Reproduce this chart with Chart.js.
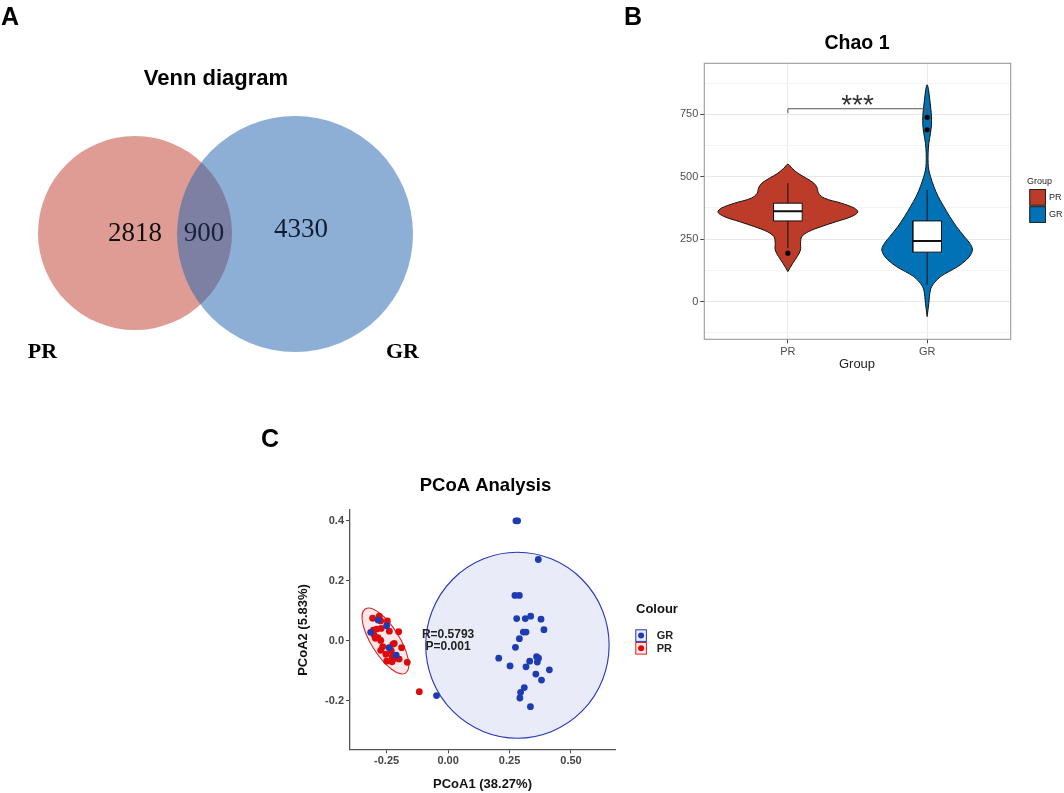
<!DOCTYPE html>
<html>
<head>
<meta charset="utf-8">
<script src="https://cdn.jsdelivr.net/npm/chart.js@4.4.0/dist/chart.umd.min.js"></script>
<style>
  body { margin: 0; background: #fff; }
  #page { position: relative; width: 1064px; height: 793px; overflow: hidden; background: #fff; }
  canvas { position: absolute; }
  .tag { position: absolute; font: bold 25px "Liberation Sans", Arial, sans-serif; line-height: 25px; color: #000; }
</style>
</head>
<body>
<div id="page">
  <canvas id="venn" width="470" height="380" style="left:0;top:0;width:470px;height:380px"></canvas>
  <canvas id="chao" width="474" height="390" style="left:590px;top:0;width:474px;height:390px"></canvas>
  <canvas id="pcoa" width="480" height="353" style="left:260px;top:440px;width:480px;height:353px"></canvas>
  <div class="tag" style="left:1px;top:4px">A</div>
  <div class="tag" style="left:624px;top:4px">B</div>
  <div class="tag" style="left:261px;top:426px">C</div>
</div>
<script>
// ---------- A: Venn ----------
var vennSets = ['PR', 'GR'];
var vennOnly = [2818, 4330];
var vennShared = 900;

// ---------- B: Chao 1 ----------
var groups = ['PR', 'GR'];
var chaoTicks = [0, 250, 500, 750];
// violin outline: value, half width (x units)
var prViolinY = [120, 154, 180, 207, 234, 260, 280, 300, 320, 340, 358, 374, 394, 414, 434, 454, 474, 494, 514, 534, 550];
var prViolinW = [0, 0.036, 0.067, 0.091, 0.091, 0.100, 0.148, 0.239, 0.347, 0.455, 0.502, 0.478, 0.383, 0.263, 0.220, 0.211, 0.187, 0.132, 0.072, 0.029, 0];
var grViolinY = [-60, -7, 47, 73, 100, 120, 140, 167, 191, 211, 234, 260, 300, 340, 380, 421, 461, 501, 527, 554, 594, 634, 674, 708, 741, 774, 808, 848, 868];
var grViolinW = [0, 0.012, 0.024, 0.048, 0.096, 0.156, 0.220, 0.282, 0.316, 0.325, 0.306, 0.268, 0.211, 0.163, 0.120, 0.079, 0.048, 0.024, 0.012, 0.007, 0.007, 0.012, 0.024, 0.031, 0.031, 0.026, 0.019, 0.010, 0];
var boxQ1 = [323, 198];
var boxMedian = [362, 243];
var boxQ3 = [394, 323];
var whiskerLow = [214, 67];
var whiskerHigh = [474, 447];
var outliers = [[194], [688, 738]];
var signifY = [750, 772];
var signifText = '***';

// ---------- C: PCoA ----------
var grPC1 = [0.276, 0.283, 0.367, 0.272, 0.290, 0.279, 0.314, 0.336, 0.378, 0.390, 0.306, 0.317, 0.290, 0.274,
             0.206, 0.252, 0.332, 0.360, 0.368, 0.363, 0.317, 0.412, 0.357, 0.380, 0.310, 0.295, 0.292, 0.335,
             -0.047, -0.285, -0.250, -0.240, -0.211, -0.315];
var grPC2 = [0.400, 0.400, 0.271, 0.151, 0.151, 0.074, 0.074, 0.082, 0.072, 0.037, 0.029, 0.029, 0.007, -0.022,
             -0.058, -0.084, -0.068, -0.053, -0.058, -0.071, -0.087, -0.097, -0.111, -0.131, -0.156, -0.172, -0.191, -0.220,
             -0.183, 0.069, 0.050, -0.023, -0.048, 0.028];
var prPC1 = [-0.307, -0.280, -0.274, -0.247, -0.304, -0.290, -0.272, -0.239, -0.201, -0.301, -0.285, -0.296, -0.274, -0.266,
             -0.225, -0.219, -0.189, -0.274, -0.231, -0.253, -0.228, -0.217, -0.250, -0.228, -0.199, -0.166, -0.117];
var prPC2 = [0.075, 0.082, 0.066, 0.066, 0.035, 0.039, 0.041, 0.032, 0.030, 0.019, 0.010, 0.008, 0.001, -0.020,
             -0.012, -0.009, -0.023, -0.032, -0.034, -0.045, -0.054, -0.059, -0.068, -0.070, -0.061, -0.072, -0.170];
// confidence ellipses: centre and two conjugate semi-axes, in data units
var grEllipseCentre = [0.282, -0.015];
var grEllipseAxes = [[0.373, 0], [0, 0.31]];
var prEllipseCentre = [-0.255, -0.001];
var prEllipseAxes = [[0.082, -0.107], [-0.048, -0.025]];
var anosimText = ['R=0.5793', 'P=0.001'];

var SANS = '"Liberation Sans", Arial, sans-serif';
var SERIF = '"Liberation Serif", "Times New Roman", serif';
Chart.defaults.font.family = SANS;
Chart.defaults.animation = false;
Chart.defaults.events = [];
Chart.defaults.plugins.legend.display = false;
Chart.defaults.plugins.tooltip.enabled = false;

var PR_COL = '#BC3C29', GR_COL = '#0072B5';

// text items, in canvas px (x,y) or data units (dx,dy)
var textPlugin = {
    id: 'texts',
    afterDraw: function (chart, args, opts) {
        var ctx = chart.ctx;
        (opts.items || []).forEach(function (t) {
            var x = t.dx !== undefined ? chart.scales.x.getPixelForValue(t.dx) : t.x;
            var y = t.dy !== undefined ? chart.scales.y.getPixelForValue(t.dy) : t.y;
            ctx.save();
            ctx.font = t.font;
            ctx.fillStyle = t.color || '#000';
            ctx.textAlign = t.align || 'center';
            ctx.textBaseline = t.baseline || 'alphabetic';
            ctx.translate(x, y);
            if (t.rotate) ctx.rotate(t.rotate);
            ctx.fillText(t.text, 0, 0);
            ctx.restore();
        });
    }
};

// legend boxes drawn in canvas px
var keyPlugin = {
    id: 'keys',
    afterDraw: function (chart, args, opts) {
        var ctx = chart.ctx;
        (opts.items || []).forEach(function (k) {
            ctx.save();
            ctx.fillStyle = k.fill;
            ctx.fillRect(k.x, k.y, k.w, k.h);
            ctx.lineWidth = 1;
            ctx.strokeStyle = k.stroke;
            ctx.strokeRect(k.x + 0.5, k.y + 0.5, k.w - 1, k.h - 1);
            if (k.dot) {
                ctx.beginPath();
                ctx.fillStyle = k.dot;
                ctx.arc(k.x + k.w / 2, k.y + k.h / 2, 3, 0, Math.PI * 2);
                ctx.fill();
            }
            ctx.restore();
        });
    }
};

// ===== A =====
var vennLayout = { centres: [[135, 233], [295, 234]], radii: [97, 118], labelAt: [[135, 241], [204, 241], [301, 237]] };

new Chart(document.getElementById('venn'), {
    type: 'bubble',
    data: {
        datasets: [
            { label: vennSets[1], data: [{ x: vennLayout.centres[1][0], y: vennLayout.centres[1][1], r: vennLayout.radii[1] }],
              backgroundColor: 'rgba(40,104,176,0.53)', borderWidth: 0, clip: false },
            { label: vennSets[0], data: [{ x: vennLayout.centres[0][0], y: vennLayout.centres[0][1], r: vennLayout.radii[0] }],
              backgroundColor: 'rgba(192,57,43,0.5)', borderWidth: 0, clip: false }
        ]
    },
    options: {
        responsive: false,
        layout: { padding: 0, autoPadding: false },
        scales: {
            x: { type: 'linear', min: 0, max: 470, display: false },
            y: { type: 'linear', min: 0, max: 380, reverse: true, display: false }
        },
        plugins: {
            texts: { items: [
                { text: 'Venn diagram', x: 216, y: 85, font: 'bold 22px ' + SANS },
                { text: String(vennOnly[0]), dx: vennLayout.labelAt[0][0], dy: vennLayout.labelAt[0][1], font: '27px ' + SERIF, color: '#111' },
                { text: String(vennShared), dx: vennLayout.labelAt[1][0], dy: vennLayout.labelAt[1][1], font: '27px ' + SERIF, color: '#18223c' },
                { text: String(vennOnly[1]), dx: vennLayout.labelAt[2][0], dy: vennLayout.labelAt[2][1], font: '27px ' + SERIF, color: '#101c36' },
                { text: vennSets[0], x: 42.5, y: 358, font: 'bold 22px ' + SERIF },
                { text: vennSets[1], x: 402.5, y: 358, font: 'bold 22px ' + SERIF }
            ] }
        }
    },
    plugins: [textPlugin]
});

// ===== B =====
function violin(pos, ys, ws) {
    var pts = [];
    for (var i = 0; i < ys.length; i++) pts.push({ x: pos + ws[i], y: ys[i] });
    for (var j = ys.length - 2; j >= 0; j--) pts.push({ x: pos - ws[j], y: ys[j] });
    return pts;
}
var BOX_HALF = 0.103;
var chaoSets = [];
[[prViolinY, prViolinW, PR_COL], [grViolinY, grViolinW, GR_COL]].forEach(function (v, i) {
    var pos = i + 1;
    chaoSets.push({ data: violin(pos, v[0], v[1]), backgroundColor: v[2], borderColor: '#111', borderWidth: 1,
                    fill: 'shape', tension: 0.35, pointRadius: 0, order: 5 });
    chaoSets.push({ data: [{ x: pos, y: whiskerLow[i] }, { x: pos, y: whiskerHigh[i] }], borderColor: '#111',
                    borderWidth: 1, pointRadius: 0, fill: false, order: 4 });
    chaoSets.push({ data: [{ x: pos - BOX_HALF, y: boxQ1[i] }, { x: pos + BOX_HALF, y: boxQ1[i] }, { x: pos + BOX_HALF, y: boxQ3[i] },
                           { x: pos - BOX_HALF, y: boxQ3[i] }, { x: pos - BOX_HALF, y: boxQ1[i] }],
                    backgroundColor: '#fff', borderColor: '#111', borderWidth: 1, fill: 'shape', pointRadius: 0, order: 3 });
    chaoSets.push({ data: [{ x: pos - BOX_HALF, y: boxMedian[i] }, { x: pos + BOX_HALF, y: boxMedian[i] }],
                    borderColor: '#111', borderWidth: 2, pointRadius: 0, fill: false, order: 2 });
    chaoSets.push({ data: outliers[i].map(function (o) { return { x: pos, y: o }; }), showLine: false,
                    pointRadius: 2.6, pointBackgroundColor: '#000', pointBorderWidth: 0, order: 1 });
});
chaoSets.push({ data: [{ x: 1, y: signifY[0] + 4 }, { x: 1, y: signifY[1] }, { x: 2, y: signifY[1] }, { x: 2, y: signifY[0] + 4 }],
                borderColor: '#555', borderWidth: 1, pointRadius: 0, fill: false, order: 0 });

var panelBorder = {
    id: 'panelBorder',
    afterDatasetsDraw: function (chart) {
        var a = chart.chartArea, ctx = chart.ctx;
        ctx.save();
        ctx.strokeStyle = '#9a9a9a';
        ctx.lineWidth = 1.1;
        ctx.strokeRect(a.left, a.top, a.right - a.left, a.bottom - a.top);
        ctx.restore();
    }
};

function isMajor(v) { return chaoTicks.indexOf(v) >= 0; }

new Chart(document.getElementById('chao'), {
    type: 'line',
    data: { datasets: chaoSets },
    options: {
        responsive: false,
        layout: { padding: { left: 84.3, right: 53.3, top: 63.3, bottom: 30.7 } },
        scales: {
            x: {
                type: 'linear', min: 0.4, max: 2.6,
                afterBuildTicks: function (s) { s.ticks = groups.map(function (g, i) { return { value: i + 1 }; }); },
                afterFit: function (s) { s.height = 20; },
                ticks: { callback: function (v) { return groups[v - 1]; }, color: '#4d4d4d', font: { size: 11 }, padding: 2, maxRotation: 0 },
                grid: { color: '#ebebeb', tickColor: '#444', tickLength: 4, lineWidth: 1 },
                border: { display: false }
            },
            y: {
                type: 'linear', min: -151, max: 954,
                ticks: { stepSize: 125, includeBounds: false, color: '#4d4d4d', font: { size: 11 }, padding: 2,
                         callback: function (v) { return isMajor(v) ? String(v) : ''; } },
                afterFit: function (s) { s.width = 30; },
                grid: {
                    color: function (c) { return c.tick && isMajor(c.tick.value) ? '#e8e8e8' : '#f4f4f4'; },
                    tickColor: function (c) { return c.tick && isMajor(c.tick.value) ? '#444' : 'rgba(0,0,0,0)'; },
                    tickLength: 4, lineWidth: 1
                },
                border: { display: false }
            }
        },
        plugins: {
            texts: { items: [
                { text: 'Chao 1', x: 267, y: 48.5, font: 'bold 19.5px ' + SANS },
                { text: 'Group', x: 267, y: 368, font: '13px ' + SANS, color: '#222' },
                { text: signifText, dx: 1.5, dy: signifY[0], font: '28px ' + SANS, color: '#333' },
                { text: 'Group', x: 437, y: 184, font: '9px ' + SANS, color: '#222', align: 'left' },
                { text: groups[0], x: 459, y: 197.5, font: '9px ' + SANS, color: '#222', align: 'left', baseline: 'middle' },
                { text: groups[1], x: 459, y: 215, font: '9px ' + SANS, color: '#222', align: 'left', baseline: 'middle' }
            ] },
            keys: { items: [
                { x: 439.3, y: 189, w: 16.7, h: 16.7, fill: PR_COL, stroke: '#222' },
                { x: 439.3, y: 206.2, w: 16.7, h: 16.7, fill: GR_COL, stroke: '#222' }
            ] }
        }
    },
    plugins: [panelBorder, textPlugin, keyPlugin]
});

// ===== C =====
var BLUE = '#1d3cb4', RED = '#dc0a0a';
function pairs(xs, ys) { return xs.map(function (x, i) { return { x: x, y: ys[i] }; }); }

var ellipsePlugin = {
    id: 'ellipses',
    beforeDatasetsDraw: function (chart, args, opts) {
        var ctx = chart.ctx, sx = chart.scales.x, sy = chart.scales.y;
        (opts.items || []).forEach(function (e) {
            var cx = sx.getPixelForValue(e.centre[0]), cy = sy.getPixelForValue(e.centre[1]);
            var ax = sx.getPixelForValue(e.centre[0] + e.axes[0][0]) - cx, ay = sy.getPixelForValue(e.centre[1] + e.axes[0][1]) - cy;
            var bx = sx.getPixelForValue(e.centre[0] + e.axes[1][0]) - cx, by = sy.getPixelForValue(e.centre[1] + e.axes[1][1]) - cy;
            ctx.beginPath();
            ctx.save();
            ctx.translate(cx, cy);
            ctx.transform(ax, ay, bx, by, 0, 0);
            ctx.arc(0, 0, 1, 0, Math.PI * 2);
            ctx.restore();
            ctx.save();
            ctx.fillStyle = e.fill;
            ctx.fill();
            ctx.strokeStyle = e.stroke;
            ctx.lineWidth = 1.1;
            ctx.stroke();
            ctx.restore();
        });
    }
};

new Chart(document.getElementById('pcoa'), {
    type: 'scatter',
    data: {
        datasets: [
            { label: 'GR', data: pairs(grPC1, grPC2), pointRadius: 3.4, pointBackgroundColor: BLUE, pointBorderWidth: 0 },
            { label: 'PR', data: pairs(prPC1, prPC2), pointRadius: 3.4, pointBackgroundColor: RED, pointBorderWidth: 0 }
        ]
    },
    options: {
        responsive: false,
        layout: { padding: { left: 50, right: 125, top: 70, bottom: 23.7 } },
        scales: {
            x: {
                type: 'linear', min: -0.399, max: 0.679,
                ticks: { stepSize: 0.25, includeBounds: false, color: '#444', font: { size: 11, weight: 'bold' }, padding: 1,
                         callback: function (v) { return v.toFixed(2); } },
                afterFit: function (s) { s.height = 20; },
                grid: { drawOnChartArea: false, tickLength: 4, color: '#444' },
                border: { display: true, color: '#555', width: 1.3 }
            },
            y: {
                type: 'linear', min: -0.362, max: 0.436,
                ticks: { stepSize: 0.2, includeBounds: false, color: '#444', font: { size: 11, weight: 'bold' }, padding: 2,
                         callback: function (v) { return v.toFixed(1); } },
                afterFit: function (s) { s.width = 40; },
                grid: { drawOnChartArea: false, tickLength: 4, color: '#444' },
                border: { display: true, color: '#555', width: 1.3 }
            }
        },
        plugins: {
            ellipses: { items: [
                { centre: grEllipseCentre, axes: grEllipseAxes, fill: 'rgba(70,90,195,0.12)', stroke: '#2836b8' },
                { centre: prEllipseCentre, axes: prEllipseAxes, fill: 'rgba(225,30,30,0.10)', stroke: '#e02222' }
            ] },
            texts: { items: [
                { text: 'PCoA Analysis', x: 225.5, y: 50.7, font: 'bold 18.5px ' + SANS },
                { text: 'PCoA1 (38.27%)', x: 222.5, y: 348, font: 'bold 13px ' + SANS, color: '#111' },
                { text: 'PCoA2 (5.83%)', x: 43.3, y: 190, font: 'bold 13px ' + SANS, color: '#111', baseline: 'middle', rotate: -Math.PI / 2 },
                { text: anosimText[0], dx: 0, dy: 0.019, font: 'bold 12px ' + SANS, color: '#222', baseline: 'middle' },
                { text: anosimText[1], dx: 0, dy: -0.02, font: 'bold 12px ' + SANS, color: '#222', baseline: 'middle' },
                { text: 'Colour', x: 376, y: 172.7, font: 'bold 13px ' + SANS, color: '#111', align: 'left' },
                { text: 'GR', x: 396.7, y: 195.8, font: 'bold 11px ' + SANS, color: '#222', align: 'left', baseline: 'middle' },
                { text: 'PR', x: 396.7, y: 208.5, font: 'bold 11px ' + SANS, color: '#222', align: 'left', baseline: 'middle' }
            ] },
            keys: { items: [
                { x: 375.3, y: 189.3, w: 11.6, h: 12.6, fill: 'rgba(70,90,195,0.12)', stroke: '#2836b8', dot: BLUE },
                { x: 375.3, y: 202, w: 11.6, h: 12.6, fill: 'rgba(225,30,30,0.10)', stroke: '#e02222', dot: RED }
            ] }
        }
    },
    plugins: [ellipsePlugin, textPlugin, keyPlugin]
});
</script>
</body>
</html>
